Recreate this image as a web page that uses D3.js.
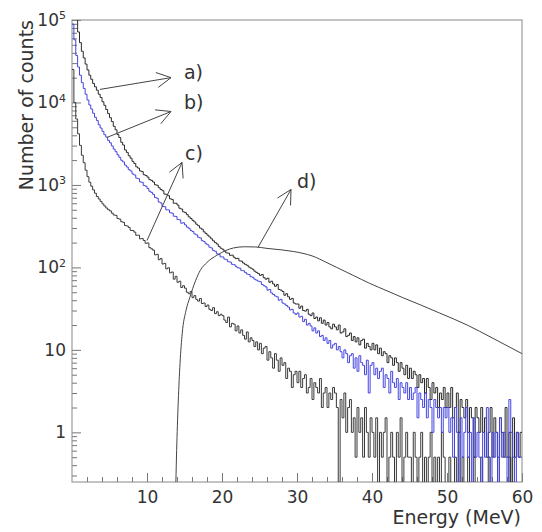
<!DOCTYPE html>
<html>
<head>
<meta charset="utf-8">
<script src="https://cdn.jsdelivr.net/npm/d3@7"></script>
<style>
  body { margin: 0; background: #fff; }
  text { font-family: "DejaVu Sans", sans-serif; fill: #333; }
</style>
</head>
<body>
<div id="chart"></div>
<script>
// Histogram bins: 0.25 MeV wide, from 0 to 60 MeV (one row = 5 MeV)
var binWidth = 0.25;
var binLow = d3.range(0, 60, binWidth);

// a) upper black spectrum
var countsA = [
  300000, 158000, 105000, 71600, 53100, 41700, 34700, 29200, 24800, 21400, 19100, 17000, 15500, 14100, 12600, 11500, 10200, 9230, 8220, 7330,
  6530, 5870, 5140, 4660, 4080, 3760, 3290, 3050, 2660, 2480, 2260, 2110, 1930, 1820, 1660, 1600, 1480, 1450, 1330, 1300,
  1245, 1160, 1135, 1085, 1005, 990, 925, 880, 850, 775, 770, 740, 680, 665, 600, 600, 570, 522, 510, 472,
  462, 436, 410, 392, 372, 356, 334, 320, 300, 290, 270, 258, 246, 234, 222, 210, 200, 192, 179, 171,
  166, 158, 150, 149, 140, 141, 133, 128, 129, 120, 119, 113, 109, 106, 101, 98, 95, 90, 87, 84,
  80, 82, 75, 72, 74, 66, 68, 63, 59, 62, 54, 53, 51, 46, 48, 44, 41, 42, 37, 36,
  36, 32, 34, 30, 29.5, 31, 27, 26, 28, 24, 25, 22.5, 24.5, 21, 23, 20, 21.5, 19, 18, 20.5,
  19, 17.5, 20, 16, 16.5, 18, 14.5, 15, 16, 13, 14.5, 12.5, 14, 11.5, 13, 13.5, 10.5, 12, 11, 10,
  12, 10, 11.5, 9, 10.5, 8.5, 9.5, 9, 7, 8.5, 8, 6.5, 8, 7, 5.5, 7, 6, 5, 6.5, 4.5,
  6, 4.5, 5.5, 5, 3.5, 5, 4, 4.5, 3, 4.5, 3.5, 2.5, 4, 3, 3.5, 2, 3, 2.5, 3.5, 2,
  3, 2, 3.5, 1.5, 2, 3, 1, 2.5, 2, 1.5, 2.5, 1, 2, 1.5, 0.5, 2, 1.5, 1, 2, 1,
  1.5, 0.5, 1, 2, 0.5, 1.5, 1, 0, 1.5, 1, 0.5, 2, 0.5, 1, 0, 1.5, 0.5, 1, 0.5, 1
];

// b) blue spectrum
var countsB = [
  89100, 57500, 37200, 26900, 21400, 17400, 14800, 12600, 10700, 9330, 8320, 7410, 6610, 6030, 5370, 4900, 4470, 4070, 3800, 3470,
  3240, 2970, 2720, 2530, 2320, 2160, 1990, 1900, 1740, 1650, 1530, 1480, 1360, 1320, 1210, 1190, 1090, 1075, 985, 965,
  905, 838, 812, 768, 705, 690, 620, 605, 548, 545, 500, 498, 460, 455, 418, 415, 380, 378, 343, 348,
  328, 308, 298, 281, 272, 255, 248, 232, 228, 211, 206, 194, 188, 176, 172, 160, 157, 146, 143, 134,
  134, 126, 124, 117, 116, 109, 108, 103, 99, 98, 92, 91, 87, 83, 82, 77, 76, 72, 70, 68,
  67, 62, 60, 58, 53, 54, 49, 47, 45, 44, 40, 41, 37, 36, 34.5, 33, 30.5, 31, 28, 27,
  28, 25, 25.5, 22, 23.5, 20, 21, 19.5, 17, 18.5, 16, 17, 14.5, 15, 13, 14, 12, 13, 10.5, 11.5,
  12, 10, 11, 9.5, 8, 10, 9, 7, 8.5, 9, 6, 8, 5.5, 8.5, 7, 6.5, 5, 7.5, 3, 6.5,
  7, 5, 6, 4.5, 5.5, 6, 3.5, 5, 4.5, 3, 5.5, 4, 3.5, 4.5, 2.5, 4, 3.5, 3, 4, 2.5,
  3.5, 2.5, 3, 3.5, 1.5, 3, 2.5, 2, 3, 1.5, 2.5, 2, 1, 2.5, 2, 1.5, 2, 1, 2, 1.5,
  2, 1, 1.5, 0.5, 2, 1, 0, 1.5, 0.5, 1, 2, 0.5, 1, 0, 1.5, 0.5, 1, 0.5, 0, 1,
  0.5, 2, 0.5, 0, 1, 0.5, 1, 0, 1.5, 0.5, 1, 0.5, 0, 2.5, 1, 0.5, 0, 1, 0.5, 0.5
];

// c) lower black spectrum
var countsC = [
  25100, 10000, 6310, 4170, 3020, 2290, 1860, 1510, 1260, 1080, 966, 871, 794, 724, 676, 631, 589, 556, 525, 501,
  485, 455, 432, 428, 392, 385, 358, 352, 322, 318, 305, 281, 280, 268, 245, 246, 222, 224, 212, 196,
  198, 174, 168, 162, 142, 144, 124, 128, 110, 112, 96, 99, 86, 88, 72, 78, 66, 68, 57, 60,
  56, 50, 48, 51, 43, 45.5, 41, 39, 42, 36.5, 37, 33.5, 35, 31, 30, 32.5, 27.5, 29, 26, 27,
  26, 23, 21.5, 25, 19, 21, 20.5, 17, 19.5, 16, 17.5, 15, 13.5, 16.5, 12.5, 14, 13, 11, 12.5, 10,
  12, 9, 10.5, 11, 7.5, 9.5, 8, 6, 9, 7.5, 5.5, 8, 6.5, 7, 4.5, 6, 5.5, 3.5, 5, 5.5,
  4, 5.5, 3.5, 4.5, 5, 3, 3.5, 4.5, 2.5, 4, 3.5, 3, 4.5, 2, 3, 3.5, 2, 3, 2.5, 3.5,
  3, 2, 0, 2.5, 1.5, 3, 1, 2, 2.5, 1, 1.5, 0.5, 2, 1, 1.5, 0.5, 2, 1, 0.5, 1.5,
  1, 0.5, 1.5, 0, 1, 0.5, 1, 1.5, 0, 0.5, 1, 0.5, 0, 1, 0.5, 1.5, 0, 0.5, 1, 0.5,
  0.5, 0, 1, 0.5, 0, 0.5, 1, 0, 0.5, 0, 0.5, 1, 0, 0.5, 0, 0.5, 0, 1, 0.5, 0,
  0, 0.5, 0, 0, 0.5, 0, 1, 0, 0.5, 0, 0, 0.5, 0, 0, 0.5, 0, 0, 0, 0.5, 0,
  0, 0, 0.5, 0, 0, 0, 0, 0.5, 0, 0, 0, 0, 0, 0.5, 0, 0, 0, 0, 0, 0
];

// d) smooth curve
var energyD = [13.85, 13.95, 14.05, 14.17, 14.4, 14.7, 15.2, 15.7, 16.5, 17.1,
  18.0, 19.3, 20.5, 21.5, 23, 24.5, 26, 28, 29.5, 30.8,
  32, 34, 35.3, 37.5, 39.7, 42, 44.1, 46.5, 49, 52.7, 56, 60];
var countsD = [0.25, 0.6, 1.2, 2.4, 6.8, 16, 30, 43, 70, 92,
  115, 140, 160, 172, 178, 177, 170, 163, 156, 148,
  138, 114, 100, 80, 64, 52, 43, 35, 28, 20, 14, 9];

// tick labels
var xTicks = [10, 20, 30, 40, 50, 60];
var xTickLabels = ["10", "20", "30", "40", "50", "60"];
var yTicks = [1, 10, 100, 1000, 10000, 100000];
var yTickBase = ["1", "10", "10", "10", "10", "10"];
var yTickExp = ["", "", "2", "3", "4", "5"];

// annotation labels and arrows (energy, counts)
var noteLabels = ["a)", "b)", "c)", "d)"];
var noteTextAt = [[14.93, 19500], [14.93, 8230], [15.07, 1980], [30, 930]];
var arrowFrom = [[3.73, 14400], [4.67, 3770], [10, 212], [24.8, 175]];
var arrowTo = [[13.2, 20000], [13.2, 7770], [14.67, 1875], [29.2, 881]];

var svgWidth = 542;
var svgHeight = 532;
var margin = { top: 20, right: 20, bottom: 50, left: 72 };
var width = svgWidth - margin.left - margin.right;
var height = svgHeight - margin.top - margin.bottom;

var svg = d3.select("#chart")
  .append("svg")
  .attr("width", svgWidth)
  .attr("height", svgHeight);

var chartGroup = svg.append("g")
  .attr("transform", `translate(${margin.left}, ${margin.top})`);

var x = d3.scaleLinear().domain([0, 60]).range([0, width]);
var y = d3.scaleLog().domain([0.25, 1e5]).range([height, 0]);

svg.append("defs").append("clipPath")
  .attr("id", "plotclip")
  .append("rect")
  .attr("width", width)
  .attr("height", height);

// x axis: major + minor inward ticks
var xMinor = d3.range(2, 60, 2).filter(v => v % 10 !== 0);
chartGroup.append("g")
  .attr("transform", `translate(0, ${height})`)
  .call(d3.axisBottom(x).tickValues(xMinor).tickSize(-5).tickFormat(""))
  .call(g => g.select(".domain").remove())
  .call(g => g.selectAll(".tick line").attr("stroke", "#777"));

chartGroup.append("g")
  .attr("transform", `translate(0, ${height})`)
  .call(d3.axisBottom(x).tickValues(xTicks).tickSize(-9).tickPadding(9)
    .tickFormat(d => xTickLabels[xTicks.indexOf(d)]))
  .attr("font-size", 17)
  .attr("font-family", null)
  .call(g => g.select(".domain").remove())
  .call(g => g.selectAll(".tick line").attr("stroke", "#777"));

// y axis: log ticks
var yMinor = [];
[0.1, 1, 10, 100, 1000, 10000].forEach(dec => {
  for (var m = 2; m <= 9; m++) {
    if (m * dec >= 0.25 && m * dec <= 1e5) yMinor.push(m * dec);
  }
});
chartGroup.append("g")
  .call(d3.axisLeft(y).tickValues(yMinor).tickSize(-5).tickFormat(""))
  .call(g => g.select(".domain").remove())
  .call(g => g.selectAll(".tick line").attr("stroke", "#777"));

chartGroup.append("g")
  .call(d3.axisLeft(y).tickValues(yTicks).tickSize(-9).tickPadding(6).tickFormat(""))
  .attr("font-size", 17)
  .attr("font-family", null)
  .call(g => g.select(".domain").remove())
  .call(g => g.selectAll(".tick line").attr("stroke", "#777"))
  .call(g => g.selectAll(".tick text").each(function (d) {
    var k = yTicks.indexOf(d);
    var t = d3.select(this);
    t.append("tspan").text(yTickBase[k]);
    if (yTickExp[k]) {
      t.append("tspan").attr("dy", "-0.62em").attr("font-size", 11).text(yTickExp[k]);
    }
  }));

// frame
chartGroup.append("rect")
  .attr("width", width)
  .attr("height", height)
  .attr("fill", "none")
  .attr("stroke", "#888");

// histograms
var plot = chartGroup.append("g").attr("clip-path", "url(#plotclip)");

var histLine = d3.line()
  .x(d => x(d[0]))
  .y(d => d[1] > 0 ? y(d[1]) : height + 5)
  .curve(d3.curveStepAfter);

function histPoints(vals) {
  var pts = vals.map((v, i) => [binLow[i], v]);
  pts.push([60, vals[vals.length - 1]]);
  return pts;
}

plot.append("path")
  .attr("d", histLine(histPoints(countsC)))
  .attr("fill", "none").attr("stroke", "#3a3a3a").attr("stroke-width", 1);

plot.append("path")
  .attr("d", histLine(histPoints(countsA)))
  .attr("fill", "none").attr("stroke", "#2a2a2a").attr("stroke-width", 1);

plot.append("path")
  .attr("d", histLine(histPoints(countsB)))
  .attr("fill", "none").attr("stroke", "#4545e0").attr("stroke-width", 1);

// smooth curve d
var curveD = d3.line()
  .x(d => x(d[0]))
  .y(d => y(d[1]))
  .curve(d3.curveMonotoneX);

plot.append("path")
  .attr("d", curveD(energyD.map((e, i) => [e, countsD[i]])))
  .attr("fill", "none").attr("stroke", "#444").attr("stroke-width", 1);

// arrows
var headLen = 16, headAng = 28 * Math.PI / 180;
arrowFrom.forEach((f, i) => {
  var x0 = x(f[0]), y0 = y(f[1]);
  var x1 = x(arrowTo[i][0]), y1 = y(arrowTo[i][1]);
  var ang = Math.atan2(y1 - y0, x1 - x0);
  var wings = [ang + Math.PI - headAng, ang + Math.PI + headAng]
    .map(a => [x1 + headLen * Math.cos(a), y1 + headLen * Math.sin(a)]);
  chartGroup.append("path")
    .attr("d", `M${x0},${y0}L${x1},${y1}M${wings[0][0]},${wings[0][1]}L${x1},${y1}L${wings[1][0]},${wings[1][1]}`)
    .attr("fill", "none")
    .attr("stroke", "#444")
    .attr("stroke-width", 1);
});

chartGroup.selectAll(".note")
  .data(noteLabels)
  .enter()
  .append("text")
  .attr("class", "note")
  .attr("x", (d, i) => x(noteTextAt[i][0]))
  .attr("y", (d, i) => y(noteTextAt[i][1]))
  .attr("font-size", 19)
  .text(d => d);

// axis titles
svg.append("text")
  .attr("x", margin.left + width - 1)
  .attr("y", 524)
  .attr("text-anchor", "end")
  .attr("font-size", 19)
  .text("Energy (MeV)");

svg.append("text")
  .attr("transform", `translate(33, ${margin.top}) rotate(-90)`)
  .attr("text-anchor", "end")
  .attr("font-size", 19)
  .text("Number of counts");
</script>
</body>
</html>
